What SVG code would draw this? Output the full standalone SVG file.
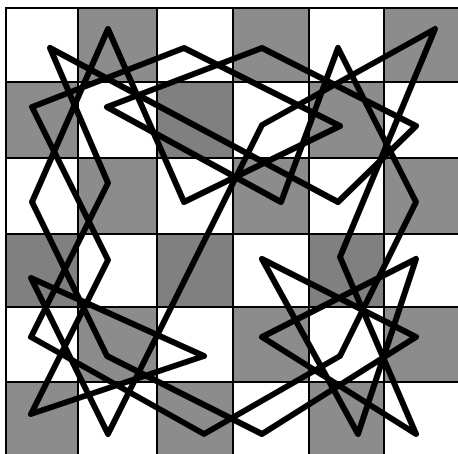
<svg xmlns="http://www.w3.org/2000/svg" width="458" height="454" viewBox="0 0 458 454">
<style>
.g{fill:#8c8c8c}
.d{fill:#808080}
.grid line{stroke:#000;stroke-width:2}
.path{fill:none;stroke:#000;stroke-width:6;stroke-linejoin:round;stroke-linecap:round}
</style>
<rect width="458" height="454" fill="#fff"/>
<g id="board">
<rect class="g" x="78" y="8" width="79" height="74"/>
<rect class="g" x="233" y="8" width="76" height="74"/>
<rect class="g" x="384" y="8" width="74" height="74"/>
<rect class="g" x="6" y="82" width="72" height="76"/>
<rect class="d" x="157" y="82" width="76" height="76"/>
<rect class="g" x="309" y="82" width="75" height="76"/>
<rect class="g" x="78" y="158" width="79" height="76"/>
<rect class="g" x="233" y="158" width="76" height="76"/>
<rect class="g" x="384" y="158" width="74" height="76"/>
<rect class="d" x="6" y="234" width="72" height="73"/>
<rect class="d" x="157" y="234" width="76" height="73"/>
<rect class="d" x="309" y="234" width="75" height="73"/>
<rect class="g" x="78" y="307" width="79" height="75"/>
<rect class="g" x="233" y="307" width="76" height="75"/>
<rect class="g" x="384" y="307" width="74" height="75"/>
<rect class="g" x="6" y="382" width="72" height="72"/>
<rect class="g" x="157" y="382" width="76" height="72"/>
<rect class="g" x="309" y="382" width="75" height="72"/>
</g>
<g id="grid" class="grid">
<line x1="6" y1="7" x2="6" y2="454"/>
<line x1="78" y1="7" x2="78" y2="454"/>
<line x1="157" y1="7" x2="157" y2="454"/>
<line x1="233" y1="7" x2="233" y2="454"/>
<line x1="309" y1="7" x2="309" y2="454"/>
<line x1="384" y1="7" x2="384" y2="454"/>
<line x1="5" y1="8" x2="458" y2="8"/>
<line x1="5" y1="82" x2="458" y2="82"/>
<line x1="5" y1="158" x2="458" y2="158"/>
<line x1="5" y1="234" x2="458" y2="234"/>
<line x1="5" y1="307" x2="458" y2="307"/>
<line x1="5" y1="382" x2="458" y2="382"/>
</g>
<g id="connectors">
<path id="loop1" class="path" d="M50,48 L108,183 L31,337 L204,434 L340,356 L416,202 L338,48 L281,202 L107,107 L262,48 L416,126 L338,202 Z"/>
<path id="loop2" class="path" d="M108,29 L184,202 L340,126 L184,48 L32,107 L108,260 L31,414 L204,356 L31,278 L108,434 L262,125 L435,29 L340,257 L416,434 L262,337 L416,259 L358,434 L262,259 L416,337 L262,434 L107,356 L32,202 Z"/>
</g>
</svg>
